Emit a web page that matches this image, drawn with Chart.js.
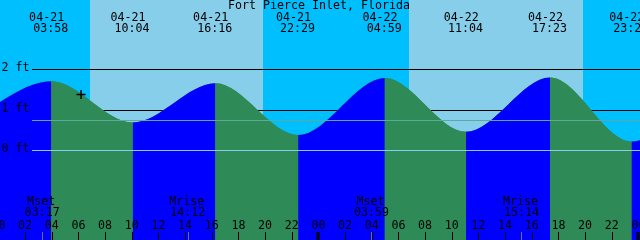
<!DOCTYPE html>
<html>
<head>
<meta charset="utf-8">
<script src="https://cdn.jsdelivr.net/npm/chart.js@4.4.1/dist/chart.umd.min.js"></script>
<style>
html,body{margin:0;padding:0;background:#fff;}
canvas{display:block;}
</style>
</head>
<body>
<canvas id="c" width="640" height="240"></canvas>
<script>
const chartTitle = 'Fort Pierce Inlet, Florida';
// tide extrema (hours from 04-21 00:00) and heights (ft)
const tideHours = [-2.3, 3.97, 10.07, 16.27, 22.48, 28.98, 35.07, 41.38, 47.48, 53.7];
const tideFeet  = [0.72, 1.70, 0.68, 1.65, 0.37, 1.78, 0.45, 1.79, 0.21, 1.82];
const tideDates = ['', '04-21', '04-21', '04-21', '04-21', '04-22', '04-22', '04-22', '04-22', ''];
const tideTimes = ['', '03:58', '10:04', '16:16', '22:29', '04:59', '11:04', '17:23', '23:29', ''];
// night periods (hours)
const nightStart = [-1, 19.87, 43.85];
const nightEnd   = [6.87, 30.8, 49];
// depth reference lines
const depthLevels = [2, 1, 0];
const depthLabels = ['2 ft', '1 ft', '0 ft'];
const meanLevel = 0.74;
// hour axis
const hourTicks  = [0,2,4,6,8,10,12,14,16,18,20,22,24,26,28,30,32,34,36,38,40,42,44,46,48];
const hourLabels = ['00','02','04','06','08','10','12','14','16','18','20','22','00','02','04','06','08','10','12','14','16','18','20','22','00'];
// moon events
const moonHours = [3.28, 14.2, 27.98, 39.23];
const moonNames = ['Mset', 'Mrise', 'Mset', 'Mrise'];
const moonTimes = ['03:17', '14:12', '03:59', '15:14'];
// current time marker
const markerHour = 6.2;
const markerFeet = 1.37;

const FONT = '13px "DejaVu Sans Mono", "Liberation Mono", monospace';
const XSCALE = 0.895;
const NIGHT = '#00bfff', DAY = '#87ceeb', RISE = '#0000ff', FALL = '#2e8b57';

function txt(c, s, x, y, align) {
  c.save();
  c.translate(x, y);
  c.scale(XSCALE, 1);
  c.textAlign = align || 'center';
  c.fillText(s, 0, 0);
  c.restore();
}

const tidePlugin = {
  id: 'tide',
  beforeDraw(chart) {
    const c = chart.ctx, x = chart.scales.x, y = chart.scales.y, a = chart.chartArea;
    c.save();
    c.fillStyle = DAY;
    c.fillRect(a.left, a.top, a.right - a.left, a.bottom - a.top);
    c.fillStyle = NIGHT;
    for (let i = 0; i < nightStart.length; i++) {
      const x0 = Math.round(x.getPixelForValue(nightStart[i]));
      const x1 = Math.round(x.getPixelForValue(nightEnd[i]));
      c.fillRect(x0, a.top, x1 - x0, a.bottom - a.top);
    }
    c.strokeStyle = '#000';
    c.lineWidth = 1;
    for (const lv of depthLevels) {
      if (lv === 0) continue;
      const py = Math.round(y.getPixelForValue(lv)) + 0.5;
      c.beginPath(); c.moveTo(32, py); c.lineTo(a.right, py); c.stroke();
    }
    c.restore();
  },
  afterDatasetsDraw(chart) {
    const c = chart.ctx, x = chart.scales.x, y = chart.scales.y, a = chart.chartArea;
    c.save();
    c.lineWidth = 1;
    // mean level line
    let py = Math.round(y.getPixelForValue(meanLevel)) + 0.5;
    c.strokeStyle = '#5fa89c';
    c.beginPath(); c.moveTo(32, py); c.lineTo(a.right, py); c.stroke();
    // zero line
    py = Math.round(y.getPixelForValue(0)) + 0.5;
    c.strokeStyle = '#87ceeb';
    c.beginPath(); c.moveTo(32, py); c.lineTo(a.right, py); c.stroke();

    c.font = FONT;
    c.fillStyle = '#000';
    c.textBaseline = 'middle';
    // depth labels
    for (let i = 0; i < depthLevels.length; i++) {
      txt(c, depthLabels[i], 1.5, y.getPixelForValue(depthLevels[i]) - 1, 'left');
    }
    // title
    txt(c, chartTitle, 319, 6);
    // tide labels
    for (let i = 0; i < tideHours.length; i++) {
      if (!tideDates[i]) continue;
      const px = x.getPixelForValue(tideHours[i]);
      txt(c, tideDates[i], px - 4.7, 17.5);
      txt(c, tideTimes[i], px - 0.6, 29);
    }
    // moon labels + markers
    for (let i = 0; i < moonHours.length; i++) {
      const px = x.getPixelForValue(moonHours[i]);
      txt(c, moonNames[i], px - 1, 202);
      txt(c, moonTimes[i], px, 213);
      c.strokeStyle = '#707070';
      const lx = Math.round(px) + 0.5;
      c.beginPath(); c.moveTo(lx, 232); c.lineTo(lx, 240); c.stroke();
    }
    // hour ticks
    c.strokeStyle = '#000';
    for (let i = 0; i < hourTicks.length; i++) {
      const px = x.getPixelForValue(hourTicks[i]);
      txt(c, hourLabels[i], px, 226);
      const isMid = hourTicks[i] % 24 === 0;
      c.lineWidth = isMid ? 3 : 1;
      const lx = Math.round(px) + (isMid ? 0 : 0.5);
      c.beginPath(); c.moveTo(lx, 232); c.lineTo(lx, 240); c.stroke();
    }
    c.restore();
  }
};

const tidePoints = tideHours.map((h, i) => ({x: h, y: tideFeet[i]}));

new Chart(document.getElementById('c'), {
  type: 'line',
  data: {
    datasets: [
      {
        data: tidePoints,
        fill: 'start',
        borderColor: 'rgba(0,0,0,0)',
        borderWidth: 1,
        pointRadius: 0,
        cubicInterpolationMode: 'monotone',
        backgroundColor: RISE,
        segment: {
          backgroundColor: ctx => ctx.p1.parsed.y > ctx.p0.parsed.y ? RISE : FALL
        },
        order: 2
      },
      {
        data: tidePoints,
        fill: 'start',
        borderColor: 'rgba(0,0,0,0)',
        borderWidth: 1,
        pointRadius: 0,
        cubicInterpolationMode: 'monotone',
        backgroundColor: FALL,
        order: 3
      },
      {
        type: 'scatter',
        data: [{x: markerHour, y: markerFeet}],
        pointStyle: 'cross',
        pointRadius: 4.5,
        borderColor: '#000',
        borderWidth: 1.5,
        order: 1
      }
    ]
  },
  options: {
    animation: false,
    responsive: false,
    devicePixelRatio: 1,
    layout: {padding: 0, autoPadding: false},
    plugins: {legend: {display: false}, tooltip: {enabled: false}},
    events: [],
    scales: {
      x: {type: 'linear', display: false, min: 0.12, max: 48.12},
      y: {type: 'linear', display: false, min: -2.222, max: 3.704}
    }
  },
  plugins: [tidePlugin]
});
</script>
</body>
</html>
